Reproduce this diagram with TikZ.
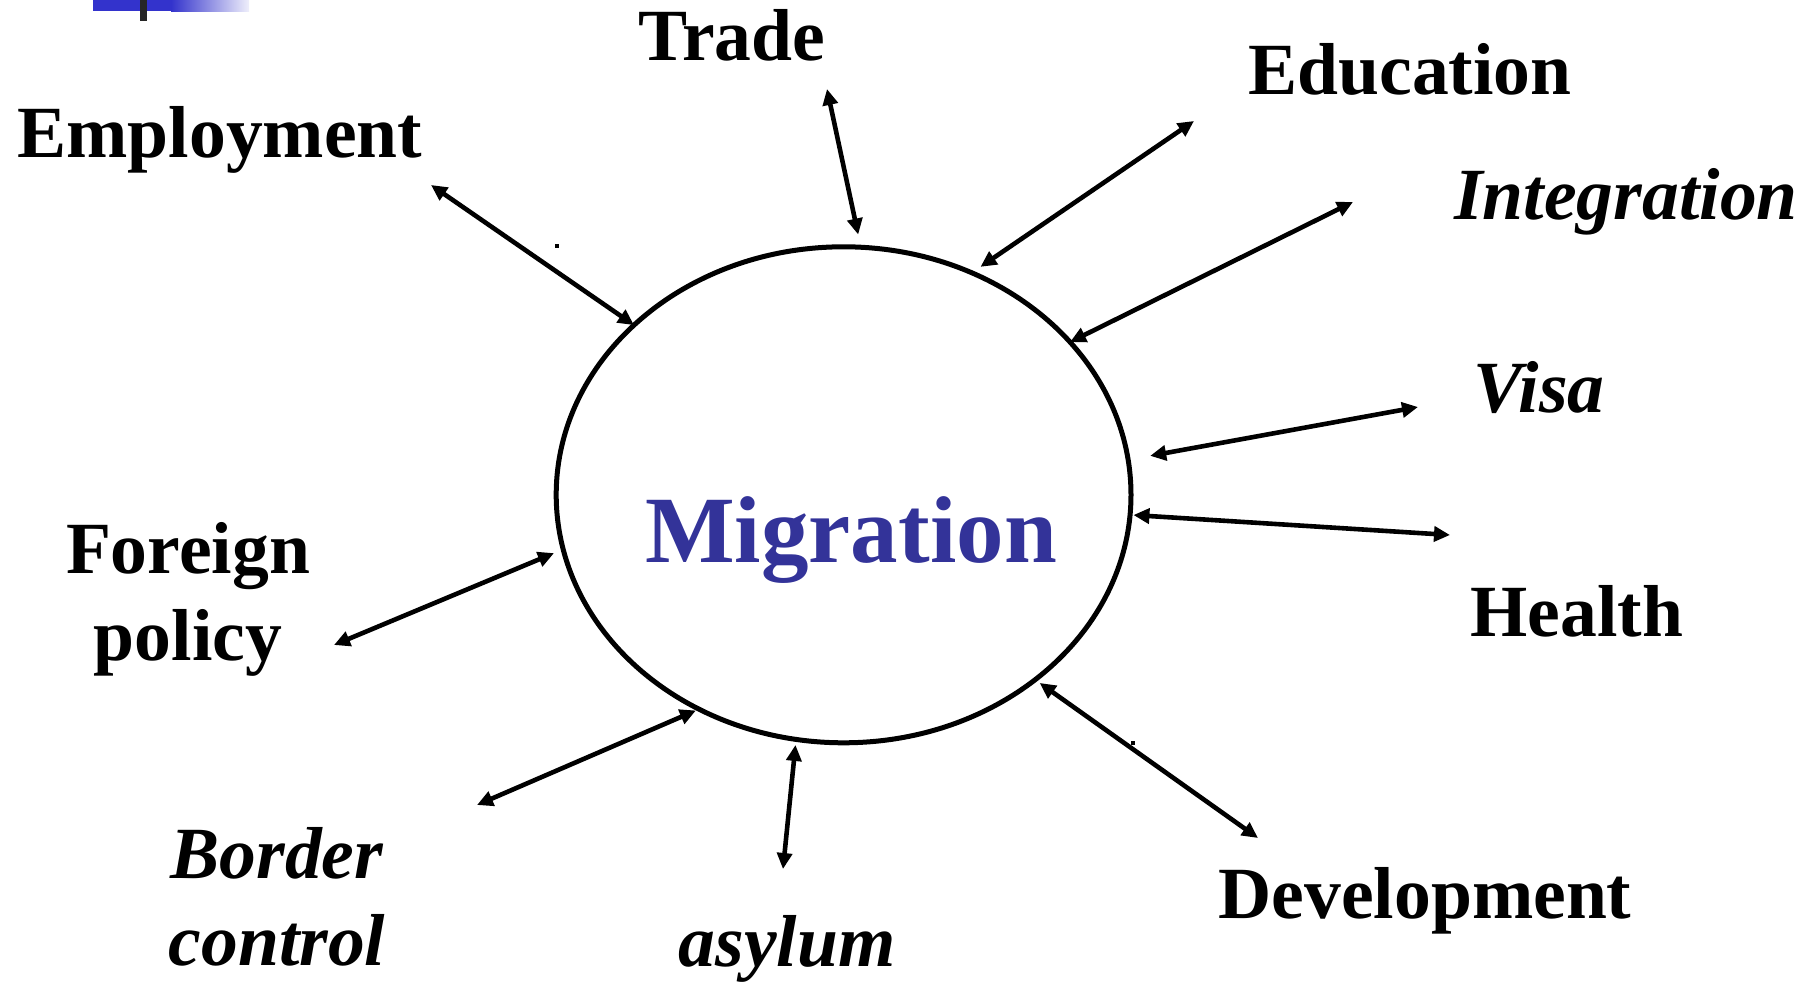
\documentclass[tikz,border=0pt]{standalone}
\usepackage{fontspec}
\setmainfont{Liberation Serif}
\usetikzlibrary{shapes.geometric, arrows.meta}
\definecolor{migblue}{HTML}{333399}
\definecolor{barblue}{HTML}{3333CC}

\begin{document}
\begin{tikzpicture}[x=0.5pt, y=-0.5pt]
\tikzstyle{topic} = [anchor=base, inner sep=0pt, align=center, font=\fontsize{36.8}{43.5}\selectfont\bfseries]
\tikzstyle{itopic} = [topic, font=\fontsize{36.8}{43.5}\selectfont\bfseries\itshape]
\tikzstyle{arrow} = [line width=2.3pt, <->, >={Triangle[length=8pt, width=7.5pt]}]

\useasboundingbox (0,0) rectangle (1817,984);

% slide corner bar
\fill [barblue] (93,0) rectangle (171,11);
\shade [left color=barblue, right color=barblue!8] (171,0) rectangle (249,12);
\fill [black!85] (140,0) rectangle (147,21);

\node (mig) [ellipse, draw, line width=2.5pt, outer sep=0pt, minimum width=287.4pt, minimum height=248pt] at (843.6,494.8) {};
\node (migtext) [anchor=base, inner sep=0pt, text=migblue, font=\fontsize{47.5}{57}\selectfont\bfseries] at (851,562) {Migration};

\node (trade) [topic] at (732,61) {Trade};
\node (edu) [topic] at (1410,95) {Education};
\node (emp) [topic] at (220,158) {Employment};
\node (integ) [itopic] at (1626,220) {Integration};
\node (visa) [itopic] at (1539,413) {Visa};
\node (health) [topic] at (1577,636) {Health};
\node (foreign) [topic] at (188,660) {Foreign\\policy};
\node (border) [itopic] at (277,965) {Border\\control};
\node (asylum) [itopic] at (787,966) {asylum};
\node (dev) [topic] at (1425,918) {Development};

% free ends near the labels
\coordinate (emp-end) at (431,185);
\coordinate (trade-end) at (827,89);
\coordinate (edu-end) at (1194,121);
\coordinate (integ-end) at (1353,202);
\coordinate (visa-end) at (1418,407);
\coordinate (health-end) at (1450,535);
\coordinate (foreign-end) at (334,645);
\coordinate (border-end) at (477,805);
\coordinate (asylum-end) at (783,869);
\coordinate (dev-end) at (1258,838);

\draw [arrow] (emp-end) -- (mig.141.3);
\draw [arrow, shorten >=6.5pt] (trade-end) -- (mig.86.5);
\draw [arrow, shorten >=5.3pt] (edu-end) -- (mig.60.9);
\draw [arrow] (integ-end) -- (mig.34);
\draw [arrow, shorten >=11.2pt] (visa-end) -- (mig.7.4);
\draw [arrow, shorten >=1.7pt] (health-end) -- (mig.-4.8);
\draw [arrow, shorten >=5pt] (foreign-end) -- (mig.191.4);
\draw [arrow, shorten >=1.7pt] (border-end) -- (mig.236.5);
\draw [arrow, shorten >=2.8pt] (asylum-end) -- (mig.259.2);
\draw [arrow, shorten >=2.8pt] (dev-end) -- (mig.316.2);

% stray specks
\fill (555,244) rectangle +(4,4);
\fill (1131,741) rectangle +(4,4);
\end{tikzpicture}
\end{document}
